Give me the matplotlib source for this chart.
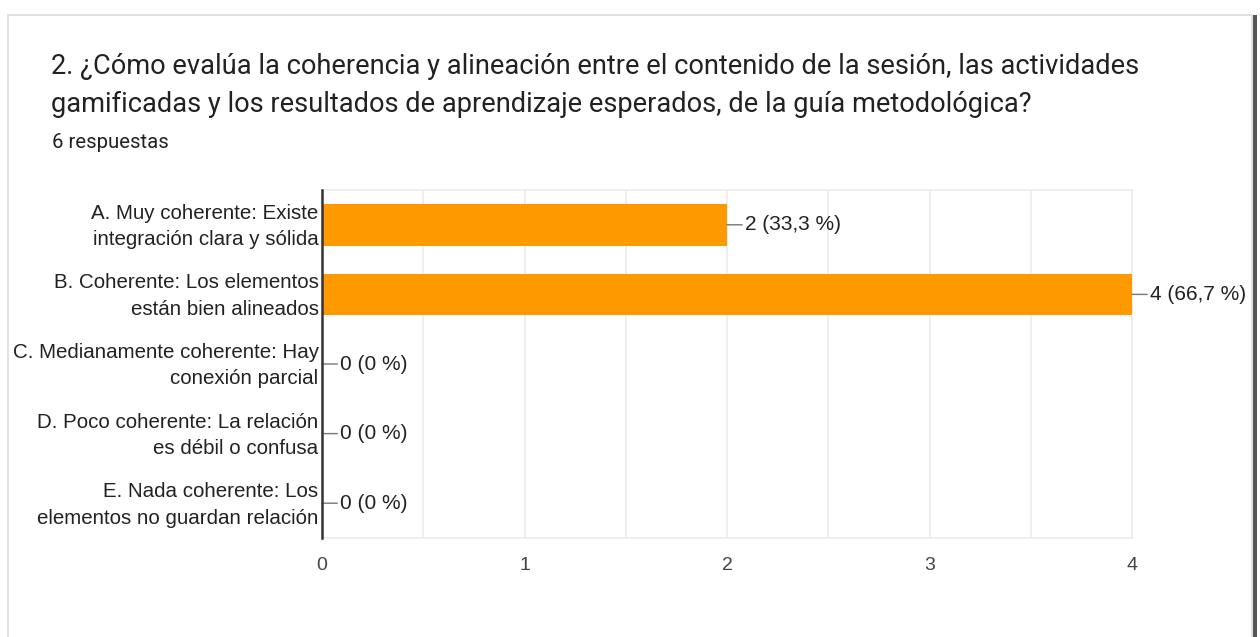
import matplotlib.pyplot as plt
from matplotlib.patches import Rectangle

plt.rcParams['font.family'] = ['Roboto', 'DejaVu Sans']

TITLE_LINES = [
    "2. ¿Cómo evalúa la coherencia y alineación entre el contenido de la sesión, las actividades",
    "gamificadas y los resultados de aprendizaje esperados, de la guía metodológica?",
]
SUBTITLE = "6 respuestas"

categories = [
    "A. Muy coherente: Existe\nintegración clara y sólida",
    "B. Coherente: Los elementos\nestán bien alineados",
    "C. Medianamente coherente: Hay\nconexión parcial",
    "D. Poco coherente: La relación\nes débil o confusa",
    "E. Nada coherente: Los\nelementos no guardan relación",
]
counts = [2, 4, 0, 0, 0]
percent_labels = ["33,3 %", "66,7 %", "0 %", "0 %", "0 %"]
x_ticks = [0, 1, 2, 3, 4]

ORANGE = '#ff9900'
TEXT = '#222222'
CHART_FONT = ['Liberation Sans', 'DejaVu Sans']

fig = plt.figure(figsize=(12.6, 6.37), dpi=100)

# card border
fig.patches.append(Rectangle((8 / 1260, -0.01), 1244 / 1260, 1 - 15 / 637 + 0.01,
                             transform=fig.transFigure, fill=False,
                             edgecolor='#dadce0', linewidth=1.2))
fig.patches.append(Rectangle((1253 / 1260, 0), 4 / 1260, 1 - 15 / 637,
                             transform=fig.transFigure, facecolor='#555555',
                             edgecolor='none'))

for i, line in enumerate(TITLE_LINES):
    fig.text(51 / 1260, 1 - (66 + 38 * i) / 637, line, fontsize=19.6, color=TEXT,
             va='center', ha='left')
fig.text(52 / 1260, 1 - 143 / 637, SUBTITLE, fontsize=14.6, color=TEXT,
         va='center', ha='left')

ax = fig.add_axes([322 / 1260, 1 - 538 / 637, 810 / 1260, 348 / 637])
y = list(range(len(categories)))
ax.barh(y, counts, height=0.6, color=ORANGE, zorder=3)
ax.set_xlim(0, 4)
ax.set_ylim(len(categories) - 0.5, -0.5)

# category labels drawn by hand so their vertical placement can be tuned
ax.set_yticks(y)
ax.set_yticklabels([])
for yi, cat in zip(y, categories):
    ax.annotate(cat, xy=(0, yi), xycoords=ax.get_yaxis_transform(),
                xytext=(-2.5, -1.2), textcoords='offset points',
                ha='right', va='center', fontsize=14.8, color=TEXT,
                linespacing=1.5, family=CHART_FONT, annotation_clip=False)

ax.set_xticks(x_ticks)
ax.set_xticklabels([str(t) for t in x_ticks], fontsize=14, color='#444444',
                   family=CHART_FONT)
ax.set_xticks([0.5, 1.5, 2.5, 3.5], minor=True)
ax.tick_params(axis='both', which='both', length=0)
ax.tick_params(axis='x', pad=14)

ax.grid(axis='x', which='both', color='#ebebeb', linewidth=1.2, zorder=0)
for side in ['top', 'right', 'bottom']:
    ax.spines[side].set_color('#ebebeb')
    ax.spines[side].set_linewidth(1.2)
ax.spines['left'].set_color('#333333')
ax.spines['left'].set_linewidth(1.8)
ax.spines['left'].set_zorder(5)

for yi, (c, p) in enumerate(zip(counts, percent_labels)):
    ax.annotate(f"{c} ({p})", xy=(c, yi), xytext=(13, 0), textcoords='offset points',
                fontsize=15, color=TEXT, va='center', ha='left', family=CHART_FONT,
                arrowprops=dict(arrowstyle='-', color='#777777', lw=1,
                                shrinkA=0, shrinkB=0),
                annotation_clip=False)

fig.savefig('out.png', dpi=100, facecolor='white')
